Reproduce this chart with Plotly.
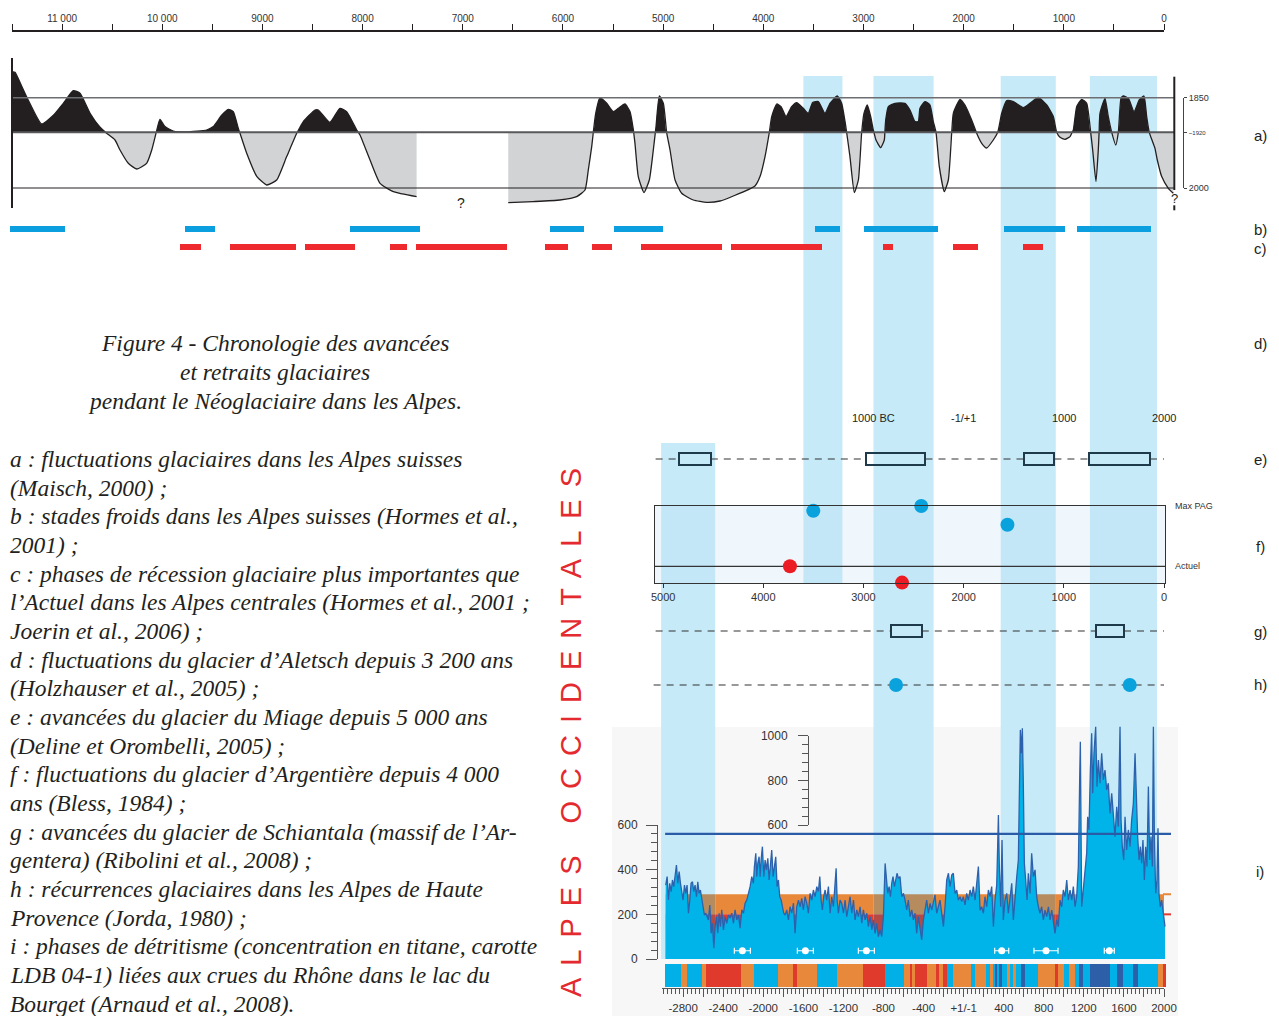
import plotly.graph_objects as go

W, H = 1279, 1016

# a) glacier fluctuations (Maisch 2000): years BP and extent relative to the ~1920 level
A1_BP = [11500, 11470, 11453, 11337, 11204, 11087, 10988, 10888, 10821, 10721, 10621, 10555,
         10472, 10422, 10339, 10255, 10156, 10105, 10055, 10023, 9973, 9890, 9756, 9557,
         9490, 9407, 9341, 9291, 9241, 9224, 9157, 9057, 8957, 8858, 8758, 8658,
         8592, 8475, 8442, 8326, 8226, 8159, 8059, 8026, 7926, 7826, 7694, 7461]
A1_V = [60.7, 60, 57, 32, 8.3, 17, 29, 41.7, 39, 19, 5, -1,
        -7.7, -17.7, -31, -36.7, -31, -17.7, 2, 13, 5.7, 1.3, 0.3, 2.3,
        5.7, 17, 23, 20.7, 4, -1, -21, -44, -52.7, -47.7, -24.3, -1,
        10.7, 22.3, 22.3, 10, 24, 20.7, 2.3, -2.7, -27.7, -51, -59.3, -64.3]
A2_BP = [6546, 6296, 6030, 5863, 5780, 5747, 5713, 5697, 5673, 5630, 5563, 5497, 5447, 5381,
         5331, 5297, 5281, 5248, 5191, 5138, 5098, 5071, 5038, 4998, 4965, 4931, 4881, 4815,
         4699, 4565, 4432, 4299, 4083, 4033, 3983, 3940, 3916, 3866, 3823, 3773, 3717, 3667,
         3601, 3551, 3507, 3451, 3384, 3334, 3261, 3218, 3184, 3168, 3135, 3091, 3051, 3018,
         2995, 2962, 2928, 2902, 2875, 2828, 2792, 2778, 2752, 2685, 2586, 2536, 2486, 2453,
         2436, 2386, 2336, 2303, 2276, 2243, 2193, 2153, 2119, 2103, 2036, 1987, 1920, 1870,
         1820, 1770, 1704, 1660, 1620, 1570, 1504, 1405, 1338, 1255, 1171, 1105, 1071, 1038,
         988, 938, 905, 871, 822, 772, 732, 712, 679, 656, 639, 589, 556, 522, 482, 456, 429,
         406, 356, 299, 247, 200, 173, 147, 123, 90, 67, 23, -43, -93]
A2_V = [-70.3, -69.3, -67.7, -64.3, -57.7, -37.7, -14.3, 0, 19, 34.7, 29, 20.7, 24, 28.3,
        20.7, 2.3, -11, -44.3, -60.3, -47.7, -17.7, 5.7, 36.3, 29, 0, -17.7, -47.7, -61,
        -67.7, -70, -68.7, -63.7, -53.7, -44.3, -24.3, 0, 15.7, 28.3, 25.7, 15.7, 25.7, 29.7,
        24, 19, 29.7, 30.7, 19, 29, 36.3, 29, 10.7, 0, -24.3, -60.3, -47.7, 0,
        19, 27.3, 15.7, 2.3, -7.7, -15.3, -7.7, 12.3, 25.7, 29, 29, 22.3, 10.7, 10.7,
        24, 30.7, 27.3, 10.7, 0, -34.3, -59.3, -47.7, 0, 19, 33, 27.3, 12.3, -1,
        -11, -15.7, -7.7, 0, 19, 31.7, 30.7, 24.7, 29, 35, 27.3, 15.7, 0, -5,
        -7, -4.3, 2.3, 25.7, 33, 29, 0, -17.7, -49.3, -17.7, 19, 34, 15.7, 0, -12.7, 0, 34,
        36.3, 34, 20.7, 32.3, 36.3, 15.7, 0, -7, -16, -27.7, -44.3, -56, -61]
REF_1850, REF_1920, REF_2000 = 34.6, 0.0, -55.7

# b) cold stages, c) recession phases (years BP)
B_START = [11520, 9773, 8126, 6129, 5490, 3484, 2995, 1597, 868]
B_END = [10971, 9474, 7427, 5790, 5001, 3234, 2256, 988, 130]
C_START = [9823, 9324, 8575, 7727, 7467, 6179, 5710, 5221, 4322, 2805, 2106, 1407]
C_END = [9613, 8665, 8076, 7557, 6559, 5950, 5510, 4412, 3414, 2705, 1857, 1208]

# shaded cold phases (years BP)
BAND_START = [5020, 3600, 2900, 1630, 740]
BAND_END = [4480, 3210, 2300, 1080, 70]

# e) Miage advances, g) Schiantala advances (years BP)
E_START = [4844, 2977, 1397, 749]
E_END = [4524, 2381, 1094, 140]
G_START = [2725, 679]
G_END = [2418, 399]
# h) recurrences
H_BP = [2675, 342]
# f) Argentiere: 1 = Max PAG, 0 = Actuel
F_BLUE_BP = [3501, 2423, 1563, 443, 175]
F_BLUE_V = [0.92, 1.0, 0.69, 1.02, 1.03]
F_RED_BP = [3734, 2615]
F_RED_V = [0.0, -0.27]

# i) titanium (LDB 04-1), years AD
TI_YEAR = [-2974, -2960, -2947, -2934, -2920, -2907, -2894, -2880, -2867, -2854, -2840, -2827,
           -2814, -2801, -2787, -2774, -2761, -2747, -2734, -2721, -2707, -2694, -2681, -2667,
           -2654, -2641, -2628, -2614, -2601, -2588, -2574, -2561, -2548, -2534, -2521, -2508,
           -2494, -2481, -2468, -2455, -2441, -2428, -2415, -2398, -2381, -2365, -2348, -2331,
           -2315, -2298, -2282, -2265, -2248, -2232, -2215, -2198, -2182, -2165, -2148, -2132,
           -2115, -2099, -2089, -2075, -2065, -2055, -2042, -2032, -2022, -2009, -1995, -1982,
           -1969, -1955, -1942, -1929, -1916, -1902, -1889, -1876, -1862, -1849, -1836, -1822,
           -1809, -1796, -1782, -1766, -1749, -1733, -1716, -1699, -1683, -1666, -1649, -1633,
           -1616, -1600, -1583, -1566, -1550, -1533, -1516, -1500, -1483, -1466, -1450, -1436,
           -1423, -1410, -1397, -1383, -1367, -1350, -1333, -1317, -1300, -1283, -1273, -1263,
           -1250, -1234, -1217, -1200, -1184, -1167, -1150, -1134, -1117, -1100, -1084, -1067,
           -1051, -1034, -1017, -1001, -984, -967, -951, -934, -917, -901, -884, -868,
           -851, -834, -818, -801, -784, -771, -758, -744, -731, -718, -705, -691,
           -678, -665, -651, -635, -618, -601, -585, -568, -552, -535, -518, -502, -485,
           -469, -452, -435, -419, -402, -385, -369, -352, -335, -319, -302, -286, -269,
           -252, -236, -219, -202, -186, -169, -152, -136, -119, -103, -86, -69, -53,
           -36, -19, -3, 14, 30, 47, 64, 80, 97, 114, 130, 147, 164, 180, 197, 213, 230,
           247, 263, 280, 297, 313, 330, 347, 357, 370, 383, 396, 413, 430, 446, 463, 480,
           496, 513, 530, 546, 556, 566, 576, 586, 596, 606, 619, 633, 646, 663, 679, 696,
           713, 729, 746, 762, 779, 796, 812, 829, 846, 862, 879, 896, 912, 929, 945, 962,
           979, 995, 1012, 1029, 1045, 1062, 1079, 1095, 1112, 1128, 1145, 1158, 1165, 1178,
           1195, 1212, 1228, 1238, 1251, 1265, 1278, 1288, 1301, 1318, 1331, 1345, 1361, 1378,
           1395, 1411, 1428, 1444, 1461, 1478, 1494, 1511, 1528, 1544, 1561, 1571, 1584, 1598,
           1611, 1627, 1644, 1661, 1677, 1694, 1711, 1724, 1737, 1751, 1764, 1777, 1790, 1804,
           1817, 1830, 1844, 1857, 1870, 1884, 1894, 1904, 1917, 1930, 1940, 1950, 1963, 1977,
           1990, 2003, 2010]
TI_VALUE = [331, 369, 264, 339, 302, 354, 324, 369, 421, 339, 391, 339,
            294, 264, 331, 294, 331, 205, 264, 339, 346, 302, 331, 279,
            346, 294, 309, 264, 220, 197, 205, 190, 175, 242, 115, 160,
            48, 145, 190, 115, 205, 145, 220, 130, 190, 160, 197, 183,
            205, 160, 220, 175, 197, 138, 220, 205, 250, 264, 294, 324,
            369, 339, 413, 473, 369, 428, 458, 369, 443, 503, 369, 443,
            399, 451, 354, 428, 488, 369, 413, 458, 324, 354, 279, 264,
            234, 205, 197, 220, 175, 234, 205, 250, 115, 234, 264, 234,
            272, 220, 279, 250, 205, 294, 264, 309, 279, 324, 302, 369,
            264, 220, 279, 309, 264, 324, 205, 279, 234, 324, 406, 264,
            205, 264, 250, 205, 264, 190, 234, 279, 205, 264, 175, 220,
            190, 234, 160, 220, 175, 205, 145, 190, 130, 175, 115, 160,
            100, 130, 100, 190, 428, 369, 294, 324, 279, 339, 369, 324,
            354, 384, 361, 369, 279, 294, 264, 220, 264, 190, 220, 175, 205,
            115, 190, 145, 85, 175, 219, 264, 205, 249, 219, 264, 287, 205,
            234, 264, 205, 145, 234, 354, 384, 324, 376, 384, 294, 309, 264,
            279, 257, 279, 242, 294, 264, 309, 279, 324, 264, 339, 414, 219, 234, 205, 279, 234,
            309, 279, 324, 145, 264, 331, 645, 399, 234, 533, 175, 264, 294, 205, 264, 339,
            175, 294, 369, 443, 846, 1026, 921, 1033, 772, 428, 354, 264, 384, 294, 473, 369,
            399, 279, 234, 205, 234, 175, 219, 190, 234, 175, 219, 160, 115, 175, 145, 264,
            234, 309, 279, 354, 264, 309, 264, 324, 234, 279, 414, 802, 973, 234,
            324, 384, 473, 637, 578, 846, 1011, 742, 921, 1040, 772, 891, 787, 921,
            802, 846, 757, 787, 652, 742, 622, 548, 682, 593, 1040, 622, 503, 443,
            637, 488, 578, 503, 622, 697, 921, 697, 548, 443, 503, 428, 533, 354,
            503, 414, 772, 443, 548, 414, 1040, 548, 294, 354, 585, 294, 234, 264,
            219, 175, 145]
TI_THRESHOLD = 560
ORANGE_LOW, ORANGE_HIGH = 200, 290
DATING_AD = [-2209, -1580, -971, 380, 822, 1454]
DATING_ERR = [80, 80, 80, 70, 120, 50]

# colour strip under i): start/end (AD) and class
CB_START = [-2980, -2820, -2764, -2614, -2571, -2225, -2089, -1849, -1699, -1666, -1466, -1260,
            -1001, -784, -591, -535, -512, -490, -369, -276, -242, -202, -169, -102, 74, 114,
            224, 263, 297, 317, 337, 357, 380, 430, 463, 490, 523, 570, 613, 739, 912, 945,
            1002, 1055, 1112, 1155, 1188, 1262, 1461, 1534, 1588, 1687, 1744, 1944, 1987]
CB_END = CB_START[1:] + [2020]
CB_CLASS = ["B", "O", "B", "O", "R", "O", "B", "O", "R", "O", "B", "O",
            "R", "B", "O", "R", "O", "R", "O", "R", "O", "R", "B", "O", "B", "O",
            "B", "O", "B", "D", "B", "D", "B", "O", "B", "O", "B", "D", "B", "O", "R", "O",
            "B", "O", "B", "D", "B", "D", "B", "D", "B", "D", "B", "O", "R"]

CAPTION = ["Figure 4 - Chronologie des avancées", "et retraits glaciaires",
           "pendant le Néoglaciaire dans les Alpes."]
LEGEND = [
    "a : fluctuations glaciaires dans les Alpes suisses",
    "(Maisch, 2000) ;",
    "b : stades froids dans les Alpes suisses (Hormes et al.,",
    "2001) ;",
    "c : phases de récession glaciaire plus importantes que",
    "l’Actuel dans les Alpes centrales (Hormes et al., 2001 ;",
    "Joerin et al., 2006) ;",
    "d : fluctuations du glacier d’Aletsch depuis 3 200 ans",
    "(Holzhauser et al., 2005) ;",
    "e : avancées du glacier du Miage depuis 5 000 ans",
    "(Deline et Orombelli, 2005) ;",
    "f : fluctuations du glacier d’Argentière depuis 4 000",
    "ans (Bless, 1984) ;",
    "g : avancées du glacier de Schiantala (massif de l’Ar-",
    "gentera) (Ribolini et al., 2008) ;",
    "h : récurrences glaciaires dans les Alpes de Haute",
    "Provence (Jorda, 1980) ;",
    "i : phases de détritisme (concentration en titane, carotte",
    "LDB 04-1) liées aux crues du Rhône dans le lac du",
    "Bourget (Arnaud et al., 2008).",
]


def fx(p):
    return p / W


def fy(p):
    return 1 - p / H


# ruler: x=12px is 11500 BP, x=1164px is 0 BP
S = 1152 / 11500
BP_LEFT = 11500 + 12 / S
BP_RIGHT = -(W - 1164) / S


def bp_at(p):
    return 11500 - (p - 12) / S


def with_crossings(xs, vs):
    ox, ov = [xs[0]], [vs[0]]
    for i in range(1, len(xs)):
        a, b = vs[i - 1], vs[i]
        if a * b < 0:
            t = a / (a - b)
            ox.append(xs[i - 1] + t * (xs[i] - xs[i - 1]))
            ov.append(0.0)
        ox.append(xs[i])
        ov.append(b)
    return ox, ov


def split_by(x0, x1, holes):
    out, cur = [], x0
    for h0, h1 in sorted(holes):
        h0, h1 = max(h0, x0), min(h1, x1)
        if h1 <= h0:
            continue
        if h0 > cur:
            out.append((cur, h0, False))
        out.append((h0, h1, True))
        cur = h1
    if cur < x1:
        out.append((cur, x1, False))
    return out


def dash_gaps(x0, x1, starts, ends):
    xs, cur = [], x0
    for s, e in sorted(zip(starts, ends), reverse=True):
        xs += [cur, s, None]
        cur = e
    xs += [cur, x1, None]
    return xs


fig = go.Figure()
DARK = "#231f20"

# ---- a)
for xs, vs in [(A1_BP, A1_V), (A2_BP, A2_V)]:
    cx, cv = with_crossings(xs, vs)
    fig.add_trace(go.Scatter(x=cx, y=[max(v, 0) for v in cv], mode="lines", fill="tozeroy",
                             fillcolor=DARK, line=dict(width=0, shape="spline", smoothing=0.5),
                             hoverinfo="skip"))
    fig.add_trace(go.Scatter(x=cx, y=[min(v, 0) for v in cv], mode="lines", fill="tozeroy",
                             fillcolor="#d1d3d4", line=dict(width=0, shape="spline", smoothing=0.5),
                             hoverinfo="skip"))
    fig.add_trace(go.Scatter(x=cx, y=cv, mode="lines",
                             line=dict(color=DARK, width=1.3, shape="spline", smoothing=0.5),
                             hoverinfo="skip"))

a_right = bp_at(1174.3)
for ref, col, wid in [(REF_1850, "#6d6e71", 1.5), (REF_1920, "#58595b", 2), (REF_2000, DARK, 1)]:
    fig.add_trace(go.Scatter(x=[11500, a_right], y=[ref, ref], mode="lines",
                             line=dict(color=col, width=wid), hoverinfo="skip"))
fig.add_trace(go.Scatter(x=[11500, 11500], y=[74.3, -75.7], mode="lines",
                         line=dict(color=DARK, width=2), hoverinfo="skip"))
fig.add_trace(go.Scatter(x=[a_right, a_right, None, a_right, a_right], y=[55.6, -57.7, None, -73, -78],
                         mode="lines", line=dict(color=DARK, width=2), hoverinfo="skip"))

# ---- b), c)
fig.add_trace(go.Bar(y=["b"] * len(B_START), base=B_END, x=[s - e for s, e in zip(B_START, B_END)],
                     orientation="h", width=0.34, marker=dict(color="#0b9fe0", line=dict(width=0)),
                     xaxis="x", yaxis="y2", hoverinfo="skip"))
fig.add_trace(go.Bar(y=["c"] * len(C_START), base=C_END, x=[s - e for s, e in zip(C_START, C_END)],
                     orientation="h", width=0.34, marker=dict(color="#ee2a2f", line=dict(width=0)),
                     xaxis="x", yaxis="y2", hoverinfo="skip"))

# ---- e)
DASH_START, DASH_END = 5075, 0
dash = dict(color="#333333", width=1.2, dash="7px,6px")
ex = dash_gaps(DASH_START, DASH_END, E_START, E_END)
fig.add_trace(go.Scatter(x=ex, y=["e" if v is not None else None for v in ex], mode="lines",
                         line=dash, xaxis="x", yaxis="y3", hoverinfo="skip"))
fig.add_trace(go.Bar(y=["e"] * len(E_START), base=E_END, x=[s - e for s, e in zip(E_START, E_END)],
                     orientation="h", width=0.5,
                     marker=dict(color="rgba(0,0,0,0)", line=dict(color="#1f3a4a", width=2)),
                     xaxis="x", yaxis="y3", hoverinfo="skip"))

# ---- f)
f_left, f_right = bp_at(655), bp_at(1165)
fig.add_trace(go.Scatter(x=[f_left, f_right], y=[0, 0], mode="lines", line=dict(color="#333333", width=1.2),
                         xaxis="x5", yaxis="y4", hoverinfo="skip"))
fig.add_trace(go.Scatter(x=F_BLUE_BP, y=F_BLUE_V, mode="markers", marker=dict(color="#0aa2dd", size=14),
                         xaxis="x5", yaxis="y4", cliponaxis=False, hoverinfo="skip"))
fig.add_trace(go.Scatter(x=F_RED_BP, y=F_RED_V, mode="markers", marker=dict(color="#ec1c24", size=14),
                         xaxis="x5", yaxis="y4", cliponaxis=False, hoverinfo="skip"))

# ---- g), h)
gx = dash_gaps(DASH_START, DASH_END, G_START, G_END)
fig.add_trace(go.Scatter(x=gx, y=["g" if v is not None else None for v in gx], mode="lines",
                         line=dash, xaxis="x", yaxis="y5", hoverinfo="skip"))
fig.add_trace(go.Bar(y=["g"] * len(G_START), base=G_END, x=[s - e for s, e in zip(G_START, G_END)],
                     orientation="h", width=0.22,
                     marker=dict(color="rgba(0,0,0,0)", line=dict(color="#1f3a4a", width=2)),
                     xaxis="x", yaxis="y5", hoverinfo="skip"))
fig.add_trace(go.Scatter(x=[DASH_START + 20, DASH_END], y=["h", "h"], mode="lines", line=dash,
                         xaxis="x", yaxis="y5", hoverinfo="skip"))
fig.add_trace(go.Scatter(x=H_BP, y=["h"] * len(H_BP), mode="markers", marker=dict(color="#0aa2dd", size=14),
                         xaxis="x", yaxis="y5", cliponaxis=False, hoverinfo="skip"))

# ---- i)
fig.add_trace(go.Scatter(x=TI_YEAR, y=TI_VALUE, mode="lines", fill="tozeroy", fillcolor="#00b4ea",
                         line=dict(color="#2c62ad", width=1.3), xaxis="x2", yaxis="y6", hoverinfo="skip"))
fig.add_trace(go.Scatter(x=[-2980, 2070], y=[TI_THRESHOLD, TI_THRESHOLD], mode="lines",
                         line=dict(color="#2a5ba6", width=2.2), xaxis="x2", yaxis="y6", hoverinfo="skip"))
fig.add_trace(go.Scatter(x=[1990, 2070], y=[ORANGE_HIGH, ORANGE_HIGH], mode="lines",
                         line=dict(color="#e8883a", width=2), xaxis="x2", yaxis="y6", hoverinfo="skip"))
fig.add_trace(go.Scatter(x=[1995, 2070], y=[ORANGE_LOW, ORANGE_LOW], mode="lines",
                         line=dict(color="#e23b2e", width=2), xaxis="x2", yaxis="y6", hoverinfo="skip"))
fig.add_trace(go.Scatter(x=DATING_AD, y=[37] * len(DATING_AD), mode="markers",
                         marker=dict(color="white", size=7),
                         error_x=dict(type="data", array=DATING_ERR, color="white", thickness=1.2, width=3),
                         xaxis="x2", yaxis="y6", hoverinfo="skip"))

CB_COLORS = {"B": "#00b0e6", "O": "#e8883a", "R": "#e03a2c", "D": "#2d5fa8"}
fig.add_trace(go.Bar(y=["cb"] * len(CB_START), base=CB_START, x=[e - s for s, e in zip(CB_START, CB_END)],
                     orientation="h", width=1, marker=dict(color=[CB_COLORS[c] for c in CB_CLASS], line=dict(width=0)),
                     xaxis="x2", yaxis="y9", hoverinfo="skip"))

# invisible traces so the stand-alone axes get drawn
for xa, ya, xv, yv in [("x3", "y", 5000, 0), ("x2", "y7", 0, 300), ("x2", "y8", 0, 800),
                       ("x", "y10", 5000, 0), ("x4", "y9", 0, "cb")]:
    fig.add_trace(go.Scatter(x=[xv], y=[yv], mode="markers", marker=dict(opacity=0),
                             xaxis=xa, yaxis=ya, hoverinfo="skip"))

# ---- shapes
shapes = [dict(type="rect", xref="paper", yref="paper", x0=fx(612), x1=fx(1178), y0=0, y1=fy(727),
               fillcolor="#f7f7f7", line=dict(width=0), layer="below")]
BAND_TOP = [443, 76, 76, 76, 76]
BAND_BOTTOM = [959, 583, 959, 959, 959]
for s, e, t, b in zip(BAND_START, BAND_END, BAND_TOP, BAND_BOTTOM):
    shapes.append(dict(type="rect", xref="x", yref="paper", x0=s, x1=e, y0=fy(b), y1=fy(t),
                       fillcolor="#c6eaf8", line=dict(width=0), layer="below"))
shapes.append(dict(type="rect", xref="x5 domain", yref="y4 domain", x0=0, x1=1, y0=0, y1=1,
                   fillcolor="rgba(190,225,248,0.25)", line=dict(width=0), layer="below"))
i_bands = [(2000 - s, 2000 - e) for s, e, b in zip(BAND_START, BAND_END, BAND_BOTTOM) if b > 900]
for y0, y1, c_out, c_in in [(ORANGE_LOW, ORANGE_HIGH, "#e8883a", "#b68c5f"), (0, ORANGE_LOW, "#e23b2e", "#b34a45")]:
    for a, b, inside in split_by(-2975, 2000, i_bands):
        shapes.append(dict(type="rect", xref="x2", yref="y6", x0=a, x1=b, y0=y0, y1=y1,
                           fillcolor=c_in if inside else c_out, line=dict(width=0), layer="below"))

# ---- annotations
serif = dict(family="Liberation Serif", size=23.5, style="italic", color=DARK)
ann = []
for i, t in enumerate(CAPTION):
    ann.append(dict(x=fx(275), y=fy(343 + 29 * i), text=t, xanchor="center", yanchor="middle", font=serif))
for i, t in enumerate(LEGEND):
    ann.append(dict(x=fx(8), y=fy(459 + 28.66 * i), text=t, xanchor="left", yanchor="middle", font=serif))
ann.append(dict(x=fx(571), y=fy(727), text="ALPES OCCIDENTALES", textangle=-90, xanchor="center",
                yanchor="middle", font=dict(family="Liberation Sans", size=29, color="#e42a2f")))
for lab, yp in [("a)", 135), ("b)", 229), ("c)", 248), ("d)", 343), ("e)", 459), ("f)", 546),
                ("g)", 631), ("h)", 684), ("i)", 871)]:
    ann.append(dict(x=fx(1260), y=fy(yp), text=lab, xanchor="center", yanchor="middle",
                    font=dict(family="Liberation Sans", size=15, color=DARK)))
for ad, lab in [(-1000, "1000 BC"), (0, "-1/+1"), (1000, "1000"), (2000, "2000")]:
    ann.append(dict(x=ad, xref="x2", y=fy(418), text=lab, xanchor="center", yanchor="middle",
                    xshift=10 if ad == -1000 else 0,
                    font=dict(family="Liberation Sans", size=11, color=DARK)))
ann.append(dict(x=bp_at(461), y=-70.7, xref="x", yref="y", text="?",
                font=dict(family="Liberation Sans", size=14, color=DARK)))
ann.append(dict(x=a_right, y=-66, xref="x", yref="y", text="?",
                font=dict(family="Liberation Sans", size=13, color=DARK)))
for a_ in ann:
    a_.setdefault("xref", "paper")
    a_.setdefault("yref", "paper")
    a_["showarrow"] = False

hidden = dict(visible=False, showgrid=False, zeroline=False, fixedrange=True, automargin=False)
top_vals = list(range(0, 11501, 500))
top_text = [("11 000" if v == 11000 else "10 000" if v == 10000 else str(v)) if v % 1000 == 0 else ""
            for v in top_vals]
bot_vals = list(range(-2800, 2001, 200))
bot_text = [("+1/-1" if v == 0 else str(v)) if (v + 2800) % 400 == 0 else "" for v in bot_vals]
axfont = dict(family="Liberation Sans", color="#333333")

fig.update_layout(
    template="none",
    width=W, height=H, margin=dict(l=0, r=0, t=0, b=0, pad=0, autoexpand=False),
    paper_bgcolor="white", plot_bgcolor="rgba(0,0,0,0)",
    showlegend=False, barmode="overlay", bargap=0,
    shapes=shapes, annotations=ann,
    xaxis=dict(hidden, domain=[0, 1], range=[BP_LEFT, BP_RIGHT], anchor="y"),
    xaxis2=dict(hidden, domain=[0, 1], range=[2000 - BP_LEFT, 2000 - BP_RIGHT], anchor="y6"),
    xaxis3=dict(domain=[fx(12), fx(1164)], range=[11500, 0], anchor="free", position=fy(31), side="top",
                showline=True, linewidth=2, linecolor=DARK, ticks="outside", ticklen=6, tickwidth=1.2,
                tickcolor=DARK, tickmode="array", tickvals=top_vals, ticktext=top_text, automargin=False,
                ticklabelstandoff=-2, tickfont=dict(axfont, size=10), showgrid=False, zeroline=False),
    xaxis4=dict(domain=[fx(662), fx(1164)], range=[2000 - bp_at(662), 2000], anchor="free", position=fy(988),
                showline=True, linewidth=1, linecolor="#555555", ticks="outside", ticklen=8, tickcolor="#555555",
                tickmode="array", tickvals=bot_vals, ticktext=bot_text, ticklabelstandoff=1, automargin=False,
                minor=dict(ticks="outside", ticklen=5, tickmode="linear", tick0=0, dtick=40, tickcolor="#555555"),
                tickfont=dict(axfont, size=11.5), showgrid=False, zeroline=False),
    xaxis5=dict(domain=[fx(655), fx(1165)], range=[f_left, f_right], anchor="y4", showline=True, mirror=True,
                linewidth=1.2, linecolor="#333333", ticks="outside", ticklen=4, tickcolor="#333333",
                tickmode="array", tickvals=[5000, 4000, 3000, 2000, 1000, 0], automargin=False,
                tickfont=dict(axfont, size=11), showgrid=False, zeroline=False),
    yaxis=dict(hidden, domain=[fy(212), fy(55)], range=[-79.7, 77.3], anchor="x"),
    yaxis2=dict(hidden, domain=[fy(256), fy(220)], type="category", categoryorder="array",
                categoryarray=["c", "b"], range=[-0.5, 1.5], anchor="x"),
    yaxis3=dict(hidden, domain=[fy(471), fy(447)], type="category", categoryarray=["e"],
                range=[-0.5, 0.5], anchor="x"),
    yaxis4=dict(domain=[fy(583), fy(506)], range=[(566.3 - 583) / 60.3, 1], anchor="x5", side="right",
                showline=True, mirror=True, linewidth=1.2, linecolor="#333333", ticks="",
                tickmode="array", tickvals=[1, 0], ticktext=["Max PAG", "Actuel"], ticklabelstandoff=7,
                automargin=False, tickfont=dict(axfont, size=9), showgrid=False, zeroline=False),
    yaxis5=dict(hidden, domain=[fy(712), fy(604)], type="category", categoryorder="array",
                categoryarray=["h", "g"], range=[-0.5, 1.5], anchor="x"),
    yaxis6=dict(hidden, domain=[fy(959), fy(720)], range=[0, (959 - 720) / 0.2233], anchor="x2"),
    yaxis7=dict(domain=[fy(959), fy(825)], range=[0, 600], anchor="free", position=fx(657), side="left",
                showline=True, linewidth=1, linecolor="#555555", ticks="outside", ticklen=11, tickcolor="#555555",
                dtick=200, ticklabelstandoff=6, automargin=False,
                minor=dict(ticks="outside", ticklen=6, dtick=40, tickcolor="#555555"),
                tickfont=dict(axfont, size=12), showgrid=False, zeroline=False),
    yaxis8=dict(domain=[fy(825), fy(959 - 1000 * 0.2233)], range=[600, 1000], anchor="free", position=fx(808),
                side="left", showline=True, linewidth=1, linecolor="#555555", ticks="outside", ticklen=10,
                tickcolor="#555555", dtick=200, ticklabelstandoff=8, automargin=False,
                minor=dict(ticks="outside", ticklen=6, dtick=40, tickcolor="#555555"),
                tickfont=dict(axfont, size=12), showgrid=False, zeroline=False),
    yaxis9=dict(hidden, domain=[fy(987), fy(964)], type="category", categoryarray=["cb"],
                range=[-0.5, 0.5], anchor="x2"),
    yaxis10=dict(domain=[fy(188), fy(97.7)], range=[REF_2000, REF_1850], anchor="free", position=fx(1183),
                 side="right", showline=True, linewidth=1, linecolor="#444444", ticks="outside", ticklen=3,
                 tickcolor="#444444", tickmode="array", tickvals=[REF_1850, REF_1920, REF_2000],
                 ticktext=["1850", "<span style='font-size:6px'>~1920</span>", "2000"], automargin=False,
                 tickfont=dict(axfont, size=9), showgrid=False, zeroline=False),
)

post = """
document.body.style.margin = '0';
document.querySelectorAll('text.annotation-text').forEach(function (t) {
  if (t.textContent === 'ALPES OCCIDENTALES') { t.style.letterSpacing = '12px'; }
});
"""
fig.write_html("out.html", post_script=post, config={"displayModeBar": False})
